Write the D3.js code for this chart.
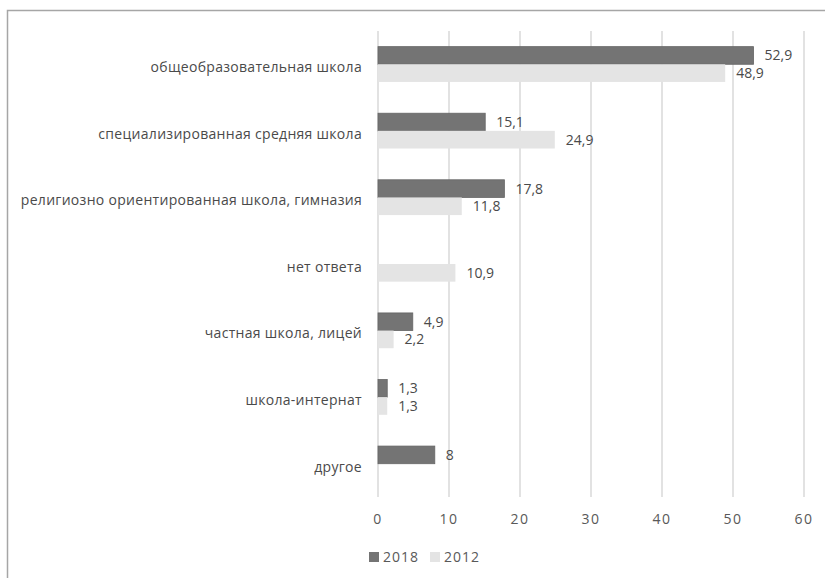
<!DOCTYPE html>
<html>
<head>
<meta charset="utf-8">
<script src="https://cdn.jsdelivr.net/npm/d3@7"></script>
<style>
  body { margin: 0; background: #fff; }
  text { font-family: "Open Sans", sans-serif; }
</style>
</head>
<body>
<div id="chart"></div>
<script>
// categories, top to bottom
var categories = [
    "общеобразовательная школа",
    "специализированная средняя школа",
    "религиозно ориентированная школа, гимназия",
    "нет ответа",
    "частная школа, лицей",
    "школа-интернат",
    "другое"
];
var seriesNames = ["2018", "2012"];
// null = no bar
var values2018 = [52.9, 15.1, 17.8, null, 4.9, 1.3, 8];
var values2012 = [48.9, 24.9, 11.8, 10.9, 2.2, 1.3, null];
var xTicks = [0, 10, 20, 30, 40, 50, 60];

function init() {
    var w = 825;
    var h = 578;

    var svg = d3.select("#chart")
        .append("svg")
        .attr("width", w)
        .attr("height", h);

    // outer frame (right and bottom edges run off the picture)
    svg.append("rect")
        .attr("x", 7.5)
        .attr("y", 10.5)
        .attr("width", w + 10)
        .attr("height", h + 10)
        .attr("fill", "none")
        .attr("stroke", "#a6a6a6")
        .attr("stroke-width", 1.5);

    var x = d3.scaleLinear()
        .domain([0, 60])
        .range([378, 804]);

    var y = d3.scaleBand()
        .domain(categories)
        .range([31, 497])
        .paddingInner(0.47)
        .paddingOuter(0.235);

    var y1 = d3.scaleBand()
        .domain(seriesNames)
        .range([0, y.bandwidth()]);

    var colors = d3.scaleOrdinal()
        .domain(seriesNames)
        .range(["#747474", "#e4e4e4"]);

    // vertical gridlines
    svg.append("g")
        .selectAll("line")
        .data(xTicks)
        .enter()
        .append("line")
        .attr("x1", function (d) { return x(d); })
        .attr("x2", function (d) { return x(d); })
        .attr("y1", 31)
        .attr("y2", 497)
        .attr("stroke", "#d9d9d9")
        .attr("stroke-width", 1.5);

    // x tick labels
    svg.append("g")
        .selectAll("text")
        .data(xTicks)
        .enter()
        .append("text")
        .attr("x", function (d) { return x(d); })
        .attr("y", 519)
        .attr("dy", "0.35em")
        .attr("text-anchor", "middle")
        .attr("fill", "#595959")
        .style("font-size", "14px")
        .style("letter-spacing", "1.5px")
        .text(function (d) { return d; });

    // category labels
    svg.append("g")
        .selectAll("text")
        .data(categories)
        .enter()
        .append("text")
        .attr("x", 362)
        .attr("y", function (d) { return y(d) + y.bandwidth() / 2 + 3; })
        .attr("dy", "0.35em")
        .attr("text-anchor", "end")
        .attr("fill", "#4a4a4a")
        .style("font-size", "14px")
        .style("letter-spacing", "0.3px")
        .text(function (d) { return d; });

    // build rows for bars
    var rows = [];
    categories.forEach(function (c, i) {
        if (values2018[i] != null) rows.push({ cat: c, s: "2018", v: values2018[i] });
        if (values2012[i] != null) rows.push({ cat: c, s: "2012", v: values2012[i] });
    });

    var fmt = function (v) { return String(v).replace(".", ","); };

    svg.append("g")
        .selectAll("rect")
        .data(rows)
        .enter()
        .append("rect")
        .attr("x", x(0))
        .attr("y", function (d) { return y(d.cat) + y1(d.s); })
        .attr("width", function (d) { return x(d.v) - x(0); })
        .attr("height", y1.bandwidth())
        .attr("fill", function (d) { return colors(d.s); })
        .attr("stroke", function (d) { return d.s === "2018" ? "#666" : "none"; })
        .attr("stroke-width", 0.8);

    // value labels
    svg.append("g")
        .selectAll("text")
        .data(rows)
        .enter()
        .append("text")
        .attr("x", function (d) { return x(d.v) + 11; })
        .attr("y", function (d) { return y(d.cat) + y1(d.s) + y1.bandwidth() / 2; })
        .attr("dy", "0.35em")
        .attr("fill", "#4a4a4a")
        .style("font-size", "14px")
        .text(function (d) { return fmt(d.v); });

    // legend
    var legendX = [369, 430];
    var legend = svg.append("g")
        .selectAll("g")
        .data(seriesNames)
        .enter()
        .append("g")
        .attr("transform", function (d, i) { return "translate(" + legendX[i] + ",557)"; });

    legend.append("rect")
        .attr("x", 0)
        .attr("y", -5)
        .attr("width", 10)
        .attr("height", 10)
        .attr("fill", function (d) { return colors(d); });

    legend.append("text")
        .attr("x", 14)
        .attr("y", 0)
        .attr("dy", "0.35em")
        .attr("fill", "#595959")
        .style("font-size", "14px")
        .style("letter-spacing", "1px")
        .text(function (d) { return d; });
}

window.onload = init;
</script>
</body>
</html>
